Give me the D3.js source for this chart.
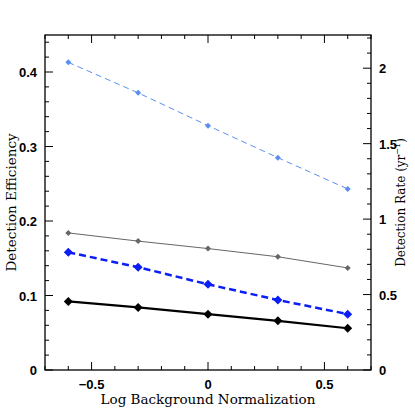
<!DOCTYPE html>
<html><head><meta charset="utf-8">
<script src="https://cdn.jsdelivr.net/npm/d3@7"></script>
<style>body{margin:0;background:#fff}</style>
</head><body><svg id="c" width="415" height="415" font-family="Liberation Sans, sans-serif"></svg>
<script>
const xs = [-0.6, -0.3, 0, 0.3, 0.6];
const lightBlue = [0.413, 0.372, 0.328, 0.285, 0.243];
const gray = [0.184, 0.173, 0.163, 0.152, 0.137];
const blue = [0.158, 0.138, 0.115, 0.094, 0.075];
const black = [0.092, 0.084, 0.075, 0.066, 0.056];
const xTicks = [-0.5, 0, 0.5];
const yTicks = [0, 0.1, 0.2, 0.3, 0.4];
const y2Ticks = [0, 0.5, 1, 1.5, 2];
const y2Labels = ["0", "0.5", "1", "1.5", "2"];

const m = {l: 45, r: 371, t: 35, b: 370};
const svg = d3.select("#c");
const x = d3.scaleLinear([-0.7, 0.7], [m.l, m.r]);
const y = d3.scaleLinear([0, 0.45], [m.b, m.b - 0.45 * 745]);
const y2 = d3.scaleLinear([0, 2.22], [m.b, m.t]);

svg.append("rect").attr("x", m.l).attr("y", m.t).attr("width", m.r - m.l).attr("height", m.b - m.t)
  .attr("fill", "none").attr("stroke", "#000").attr("stroke-width", 1.3);

const g = svg.append("g").attr("stroke", "#000").attr("stroke-width", 1);
// x ticks, bottom and top
d3.range(-0.7, 0.701, 0.1).forEach(v => {
  const major = Math.abs(Math.round(v * 2) - v * 2) < 1e-6;
  const L = major ? 8 : 4;
  g.append("line").attr("x1", x(v)).attr("x2", x(v)).attr("y1", m.b).attr("y2", m.b - L);
  g.append("line").attr("x1", x(v)).attr("x2", x(v)).attr("y1", m.t).attr("y2", m.t + L);
});
d3.range(0, 0.451, 0.02).forEach(v => {
  const major = Math.abs(Math.round(v * 10) - v * 10) < 1e-6;
  g.append("line").attr("x1", m.l).attr("x2", m.l + (major ? 8 : 4)).attr("y1", y(v)).attr("y2", y(v));
});
d3.range(0, 2.21, 0.1).forEach(v => {
  const major = Math.abs(Math.round(v * 2) - v * 2) < 1e-6;
  g.append("line").attr("x1", m.r).attr("x2", m.r - (major ? 8 : 4)).attr("y1", y2(v)).attr("y2", y2(v));
});

svg.selectAll(".xl").data(xTicks).join("text").attr("x", d => x(d)).attr("y", m.b + 19)
  .attr("text-anchor", "middle").attr("font-size", 13).attr("font-weight", "bold")
  .text(d => d === 0 ? "0" : d3.format(".1f")(d).replace("-", "\u2212"));
svg.selectAll(".yl").data(yTicks).join("text").attr("x", m.l - 8).attr("y", d => y(d) + 5)
  .attr("text-anchor", "end").attr("font-size", 13).attr("font-weight", "bold")
  .text(d => d === 0 ? "0" : d3.format(".1f")(d));
svg.selectAll(".y2l").data(y2Ticks).join("text").attr("x", m.r + 8).attr("y", d => y2(d) + 5)
  .attr("font-size", 13).attr("font-weight", "bold").text((d, i) => y2Labels[i]);

svg.append("text").attr("x", (m.l + m.r) / 2).attr("y", 404).attr("text-anchor", "middle")
  .attr("font-family", "DejaVu Serif").attr("font-size", 13.5).text("Log Background Normalization");
svg.append("text").attr("transform", `translate(16,${(m.t + m.b) / 2}) rotate(-90)`).attr("text-anchor", "middle")
  .attr("font-family", "DejaVu Serif").attr("font-size", 13.5).text("Detection Efficiency");
const t = svg.append("text").attr("transform", `translate(405,${(m.t + m.b) / 2}) rotate(-90)`).attr("text-anchor", "middle")
  .attr("font-family", "DejaVu Serif").attr("font-size", 12);
t.append("tspan").text("Detection Rate (yr");
t.append("tspan").attr("font-size", 8).attr("dy", -5).text("\u22121");
t.append("tspan").attr("dy", 5).text(")");

const series = [
  {v: lightBlue, c: "#5a8ff0", w: 1, dash: "6,4", s: 3},
  {v: gray, c: "#666", w: 1, dash: null, s: 3},
  {v: blue, c: "#0a1ef5", w: 2.5, dash: "7,4", s: 4.5},
  {v: black, c: "#000", w: 2.2, dash: null, s: 4.5}
];
const line = d3.line().x((d, i) => x(xs[i])).y(d => y(d));
series.forEach(s => {
  svg.append("path").attr("d", line(s.v)).attr("fill", "none").attr("stroke", s.c)
    .attr("stroke-width", s.w).attr("stroke-dasharray", s.dash);
  svg.selectAll(null).data(s.v).join("path")
    .attr("d", (d, i) => `M${x(xs[i])},${y(d) - s.s}l${s.s},${s.s}l${-s.s},${s.s}l${-s.s},${-s.s}z`)
    .attr("fill", s.c);
});
</script></body></html>
